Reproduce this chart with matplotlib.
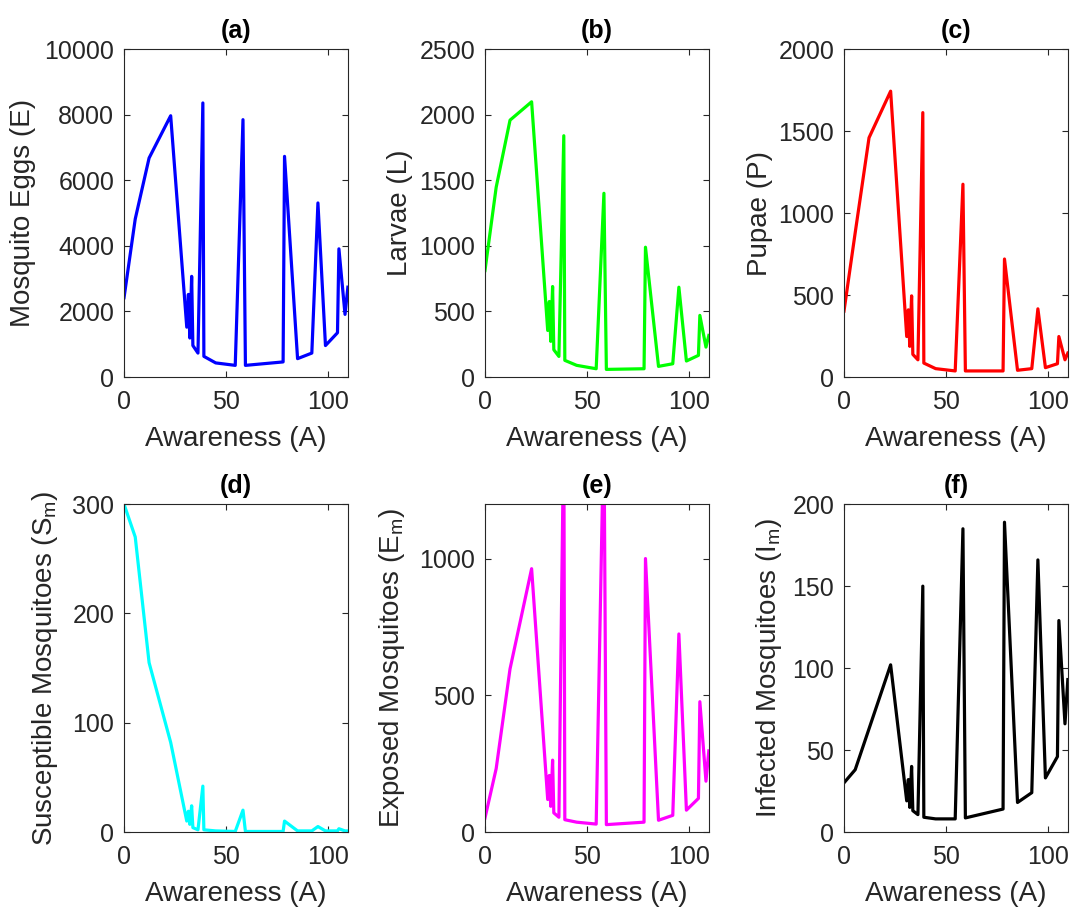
import matplotlib
matplotlib.use("Agg")
import matplotlib.pyplot as plt

plt.rcParams['font.family'] = ['Liberation Sans', 'DejaVu Sans']
plt.rcParams['mathtext.default'] = 'regular'

# Awareness values (shared x for every panel)
awareness = [0, 5.5, 12.3, 22.9, 30.8, 31.6, 32.3, 33.2, 33.8, 36.3, 38.7, 39.2, 45.0,
             54.6, 58.4, 59.6, 78.1, 78.8, 85.2, 92.2, 95.2, 98.9, 104.8, 105.5, 108.5, 109.9]

eggs = [2420, 4820, 6680, 7970, 1520, 2520, 1190, 3070, 960, 730, 8360, 630, 430,
        355, 7850, 355, 460, 6730, 560, 730, 5310, 960, 1350, 3910, 1910, 2740]
larvae = [812, 1447, 1959, 2099, 355, 576, 272, 690, 208, 157, 1840, 127, 89,
          63, 1401, 58, 63, 990, 81, 101, 685, 122, 165, 470, 228, 317]
pupae = [402, 880, 1460, 1744, 247, 410, 187, 495, 138, 105, 1613, 85, 51,
         37, 1176, 37, 37, 720, 41, 51, 416, 57, 81, 247, 105, 146]
susceptible = [300, 270, 155, 82, 10, 19, 7, 24, 4, 2, 42, 2, 1,
               0.5, 20, 0.5, 0.5, 10, 1, 1, 5, 1, 1, 3, 1, 1]
exposed = [51, 232, 597, 964, 119, 207, 94, 263, 70, 54, 1500, 45, 36,
           29, 1500, 27, 36, 1001, 43, 61, 725, 80, 123, 477, 186, 297]
infected = [30, 38, 63, 102, 19, 32, 15, 40, 13, 10.6, 150, 9, 8,
            8, 185, 8.6, 14, 189, 18, 24, 166, 33, 46, 129, 66, 93]

titles = ['(a)', '(b)', '(c)', '(d)', '(e)', '(f)']
series = [eggs, larvae, pupae, susceptible, exposed, infected]
colors = [(0, 0, 1), (0, 1, 0), (1, 0, 0), (0, 1, 1), (1, 0, 1), (0, 0, 0)]
ylabels = ['Mosquito Eggs (E)', 'Larvae (L)', 'Pupae (P)',
           'Susceptible Mosquitoes (S$_m$)', 'Exposed Mosquitoes (E$_m$)',
           'Infected Mosquitoes (I$_m$)']
ymaxs = [10000, 2500, 2000, 300, 1200, 200]
yticks = [[0, 2000, 4000, 6000, 8000, 10000], [0, 500, 1000, 1500, 2000, 2500],
          [0, 500, 1000, 1500, 2000], [0, 100, 200, 300], [0, 500, 1000],
          [0, 50, 100, 150, 200]]
xticks = [0, 50, 100]

# where the right edge of each y label sits (axes fraction)
ylab_x = [-0.395, -0.321, -0.317, -0.286, -0.348, -0.268]

fig = plt.figure(figsize=(10.72, 9.08), dpi=100)
lefts = [0.1157, 0.4524, 0.7873]
bottoms = [0.5848, 0.0837]
w, h = 0.209, 0.361
dark = '#262626'

for i in range(6):
    ax = fig.add_axes([lefts[i % 3], bottoms[i // 3], w, h])
    ax.plot(awareness, series[i], color=colors[i], linewidth=2.3)
    ax.set_xlim(0, 110)
    ax.set_ylim(0, ymaxs[i])
    ax.set_xticks(xticks)
    ax.set_yticks(yticks[i])
    ax.tick_params(direction='in', top=True, right=True, labelsize=18,
                   colors=dark, length=4, width=0.8)
    ax.tick_params(axis='x', pad=9)
    ax.tick_params(axis='y', pad=7)
    for s in ax.spines.values():
        s.set_color(dark)
        s.set_linewidth(0.8)
    ax.set_title(titles[i], fontsize=18, fontweight='bold', pad=8)
    ax.set_xlabel('Awareness (A)', fontsize=20, color=dark, labelpad=9)
    ax.set_ylabel(ylabels[i], fontsize=20, color=dark)
    ax.yaxis.set_label_coords(ylab_x[i], 0.5)

fig.savefig('out.png', dpi=100)
